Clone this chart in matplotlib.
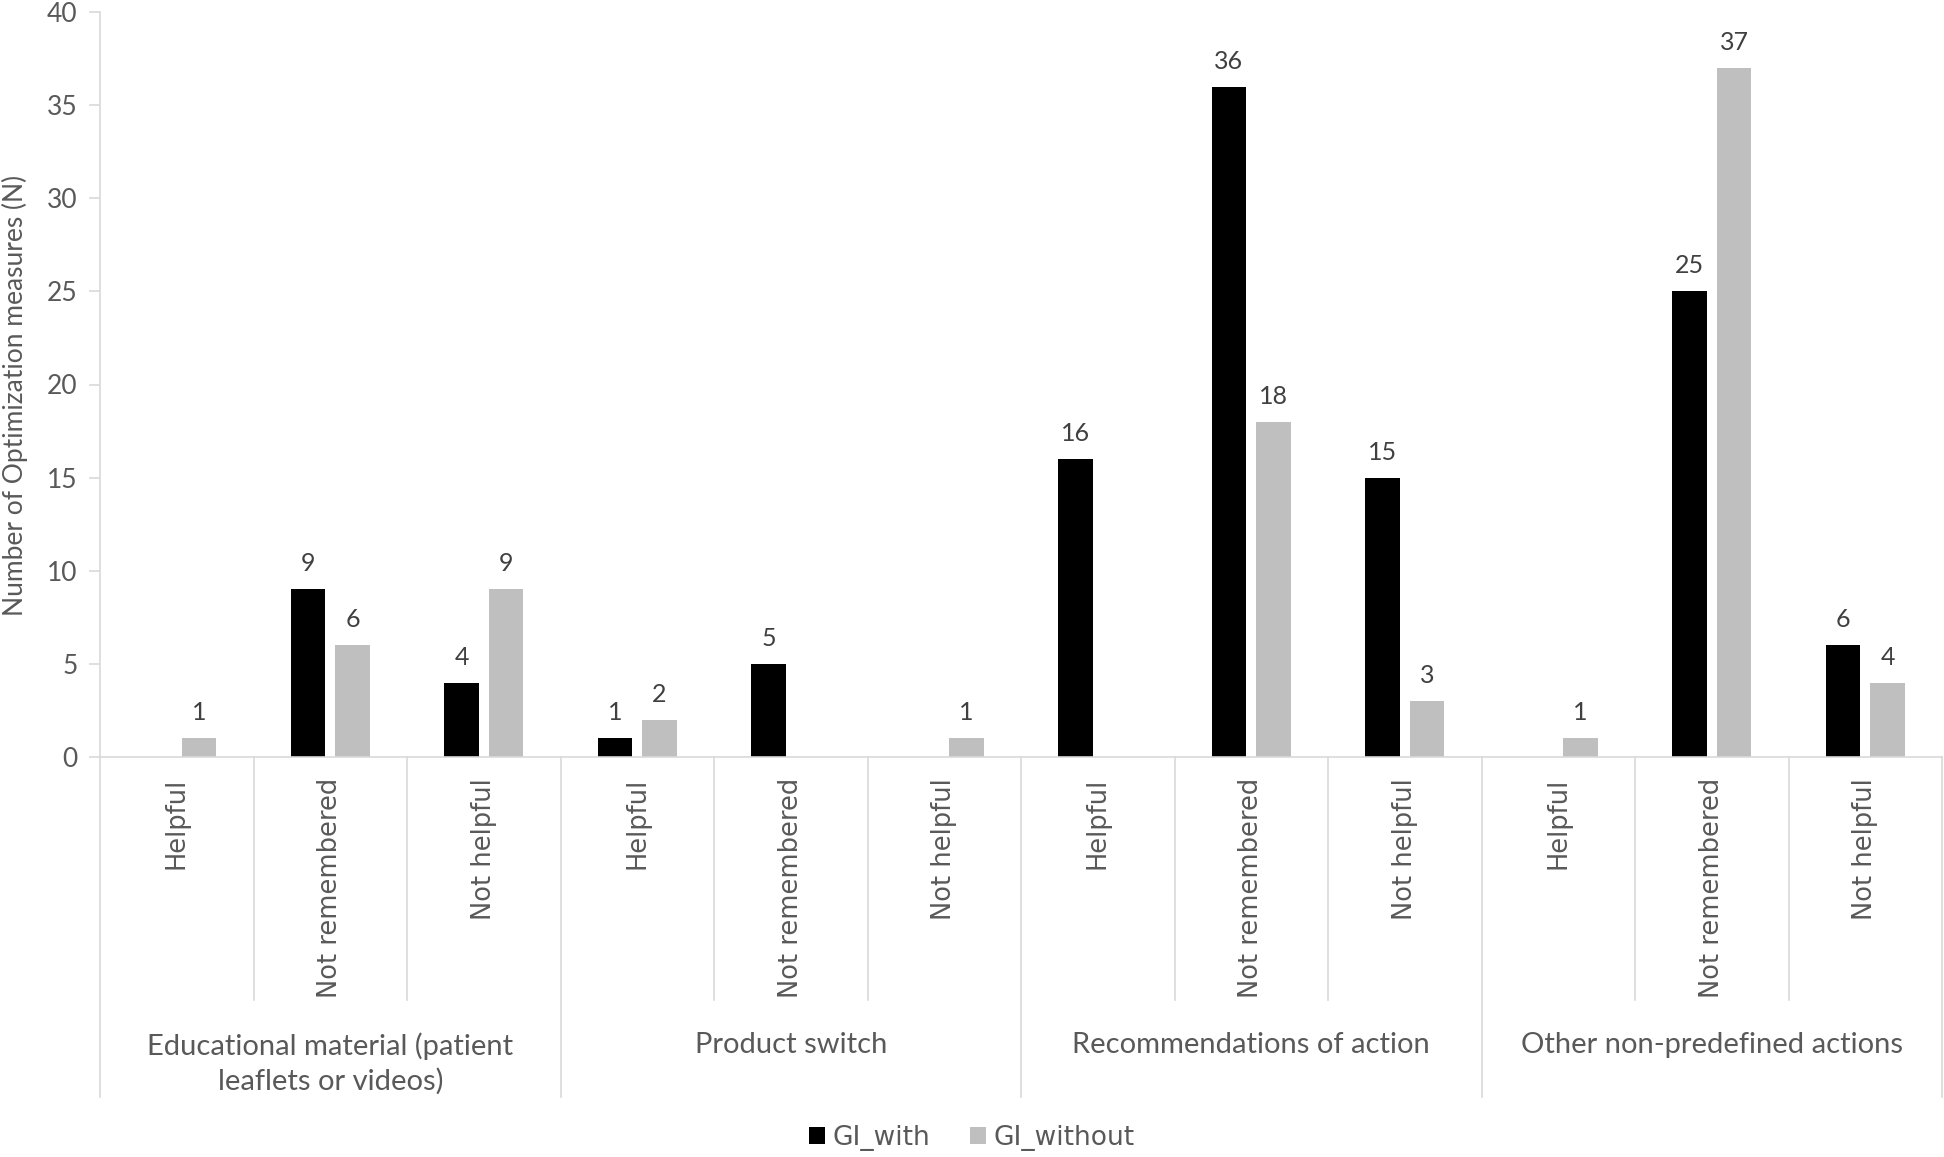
import numpy as np
import matplotlib.pyplot as plt
from matplotlib import transforms

# data
groups = ['Educational material (patient\nleaflets or videos)', 'Product switch',
          'Recommendations of action', 'Other non-predefined actions']
subs = ['Helpful', 'Not remembered', 'Not helpful']
gi_with = [0, 9, 4, 1, 5, 0, 16, 36, 15, 0, 25, 6]
gi_without = [1, 6, 9, 2, 0, 1, 0, 18, 3, 1, 37, 4]

grey_txt = '#595959'
line_c = '#d9d9d9'

fig = plt.figure(figsize=(19.44, 11.57), dpi=100)
ax = fig.add_axes([100/1944, 400/1157, 1842/1944, 745/1157])

x = np.arange(len(gi_with))
w = 0.226
off = 0.145
b1 = ax.bar(x - off, gi_with, w, color='#000000', label='GI_with')
b2 = ax.bar(x + off, gi_without, w, color='#bfbfbf', label='GI_without')

# labels over bars, zeros are not labelled in the original
for bars, vals in [(b1, gi_with), (b2, gi_without)]:
    for r, v in zip(bars, vals):
        if v == 0:
            continue
        ax.annotate(str(v), (r.get_x() + r.get_width()/2, v), xytext=(0, 10),
                    textcoords='offset points', ha='center', va='bottom',
                    fontsize=18, color='#404040', family='Lato')

ax.set_xlim(-0.5, len(x) - 0.5)
ax.set_ylim(0, 40)
ax.set_yticks(range(0, 41, 5))
ax.tick_params(axis='y', labelsize=19, labelcolor=grey_txt, color=line_c, length=8,
               width=1.2, pad=8)
for t in ax.get_yticklabels():
    t.set_family('Lato')
ax.set_xticks([])
for s in ['top', 'right']:
    ax.spines[s].set_visible(False)
ax.spines['left'].set_color(line_c)
ax.spines['left'].set_linewidth(1.2)
ax.spines['bottom'].set_color(line_c)
ax.spines['bottom'].set_linewidth(1.2)

# multi-level category axis
trans = transforms.blended_transform_factory(ax.transData, ax.transAxes)
sub_depth = -243/745
grp_depth = -340/745
for i in range(len(x) + 1):
    depth = grp_depth if i % 3 == 0 else sub_depth
    ax.plot([i - 0.5, i - 0.5], [0, depth], transform=trans, color=line_c,
            lw=1.2, clip_on=False)
for i in range(len(x)):
    ax.text(i, -21/745, subs[i % 3], transform=trans, rotation=90, ha='center',
            va='top', fontsize=18.5, color=grey_txt, family='DejaVu Sans')
for g, name in enumerate(groups):
    ax.text(g*3 + 1, -275/745, name, transform=trans, ha='center', va='top',
            fontsize=21, color=grey_txt, family='Lato', linespacing=1.4)

fig.text(15/1944, 1 - 395/1157, 'Number of Optimization measures (N)', rotation=90,
         ha='center', va='center', fontsize=19, color=grey_txt, family='Lato')

leg = fig.legend(loc='center', bbox_to_anchor=(0.5, 19/1157), ncol=2, frameon=False,
                 fontsize=19, handlelength=0.6, handleheight=0.6, handletextpad=0.3,
                 columnspacing=1.5)
for t in leg.get_texts():
    t.set_color(grey_txt)

fig.savefig('out.png', dpi=100)
